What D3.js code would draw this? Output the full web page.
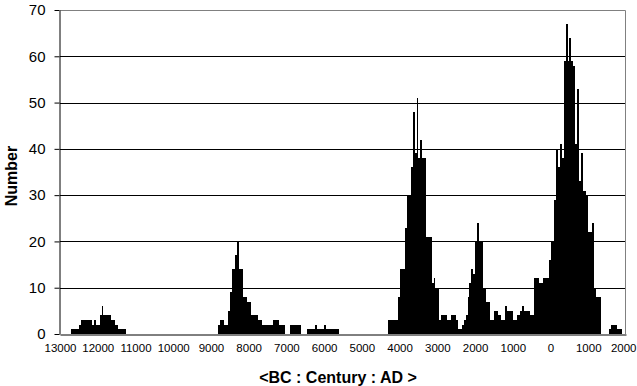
<!DOCTYPE html>
<html>
<head>
<meta charset="utf-8">
<script src="https://cdn.jsdelivr.net/npm/d3@7"></script>
<style>
  html, body { margin: 0; padding: 0; background: #fff; }
  svg { display: block; }
  text { font-family: Arial, "Liberation Sans", sans-serif; fill: #000; }
</style>
</head>
<body>
<svg id="chart" width="637" height="386"></svg>
<script>
// Bin definition: 50-year bins from 13000 BC (-13000) to 2000 AD
const binStartYear = -13000;
const binYears = 50;

// Counts per 50-year bin (300 bins), 20 bins per row
const counts = [
  0,0,0,0,0,0,1,1,1,1,2,3,3,3,3,3,3,2,3,2,          // -13000 .. -12050
  2,4,6,4,4,4,4,3,3,2,2,1,1,1,1,0,0,0,0,0,          // -12000 .. -11050
  0,0,0,0,0,0,0,0,0,0,0,0,0,0,0,0,0,0,0,0,          // -11000 .. -10050
  0,0,0,0,0,0,0,0,0,0,0,0,0,0,0,0,0,0,0,0,          // -10000 .. -9050
  0,0,0,0,2,3,3,2,2,5,9,14,14,17,20,14,14,8,8,7,    // -9000 .. -8050
  7,4,4,4,4,3,3,2,2,2,2,2,2,3,3,3,2,2,2,0,          // -8000 .. -7050
  0,0,2,2,2,2,2,2,0,0,0,1,1,1,1,2,1,1,1,1,          // -7000 .. -6050
  2,1,1,1,1,1,1,1,0,0,0,0,0,0,0,0,0,0,0,0,          // -6000 .. -5050
  0,0,0,0,0,0,0,0,0,0,0,0,0,0,3,3,3,3,3,8,          // -5000 .. -4050
  14,14,14,23,30,30,36,48,39,51,38,42,38,38,21,21,21,11,12,10, // -4000 .. -3050
  10,3,4,4,4,3,3,4,4,4,3,1,1,2,3,4,8,11,14,13,      // -3000 .. -2050
  20,24,20,20,10,10,7,7,3,3,5,5,4,4,3,3,6,5,5,5,    // -2000 .. -1050
  3,3,4,4,5,6,5,5,5,4,4,12,12,12,11,11,12,12,12,16, // -1000 .. -50
  20,20,29,40,36,41,38,59,67,59,64,59,58,41,53,33,39,31,31,30, // 0 .. 950
  22,22,24,10,8,8,8,0,0,0,0,1,2,2,2,1,1,1,0,0       // 1000 .. 1950
];

// Axis tick values and labels
const xTickYears = [-13000,-12000,-11000,-10000,-9000,-8000,-7000,-6000,-5000,-4000,-3000,-2000,-1000,0,1000,2000];
const yTickValues = [0,10,20,30,40,50,60,70];
const xTitle = "<BC : Century : AD >";
const yTitle = "Number";

const bins = counts.map((c, i) => ({ start: binStartYear + i * binYears, count: c }));

const W = 637;
const svg = d3.select("#chart");
const plot = { left: 60, right: 626, top: 10, bottom: 334 };

const x = d3.scaleLinear().domain([-13000, 2000]).range([plot.left, plot.right]);
const y = d3.scaleLinear().domain([0, 70]).range([plot.bottom, plot.top]);

// Gridlines
svg.append("g")
  .selectAll("line")
  .data(yTickValues.filter(v => v > 0 && v < 70))
  .join("line")
  .attr("x1", plot.left).attr("x2", plot.right)
  .attr("y1", d => Math.round(y(d)) + 0.5).attr("y2", d => Math.round(y(d)) + 0.5)
  .attr("stroke", "#000").attr("stroke-width", 1);

// Plot border (top and right, gray)
svg.append("path")
  .attr("d", `M${plot.left},${plot.top + 0.5}H${plot.right - 0.5}V${plot.bottom}`)
  .attr("fill", "none").attr("stroke", "#808080").attr("stroke-width", 1);

// Bars
svg.append("g")
  .selectAll("rect")
  .data(bins.filter(d => d.count > 0))
  .join("rect")
  .attr("x", d => Math.round(x(d.start)))
  .attr("width", d => Math.round(x(d.start + binYears)) - Math.round(x(d.start)))
  .attr("y", d => Math.round(y(d.count)))
  .attr("height", d => Math.round(y(0)) - Math.round(y(d.count)))
  .attr("fill", "#000")
  .attr("shape-rendering", "crispEdges");

// Y axis
const yAxis = svg.append("g")
  .attr("transform", `translate(${plot.left - 0.5},0)`)
  .call(d3.axisLeft(y).tickValues(yTickValues).tickSize(5).tickSizeOuter(0).tickPadding(9));
yAxis.select(".domain").attr("stroke", "#000");
yAxis.selectAll(".tick line").attr("stroke", "#000");
yAxis.selectAll(".tick text")
  .style("font-size", "15px")
  .style("font-family", "Arial, 'Liberation Sans', sans-serif")
  .attr("fill", "#000");

// X axis
const xAxis = svg.append("g")
  .attr("transform", `translate(0,${plot.bottom + 0.5})`)
  .call(d3.axisBottom(x).tickValues(xTickYears).tickSize(0).tickSizeOuter(0).tickPadding(9)
    .tickFormat(d => String(Math.abs(d))));
xAxis.select(".domain").attr("stroke", "#000");
xAxis.selectAll(".tick text")
  .style("font-size", "11.5px")
  .style("font-family", "Arial, 'Liberation Sans', sans-serif")
  .attr("fill", "#000");
// keep the last label inside the picture
xAxis.selectAll(".tick")
  .filter(d => d === xTickYears[xTickYears.length - 1])
  .select("text")
  .attr("text-anchor", "end")
  .attr("x", (W - 1) - x(xTickYears[xTickYears.length - 1]));

// Titles
svg.append("text")
  .attr("x", 338).attr("y", 383)
  .attr("text-anchor", "middle")
  .style("font-size", "16px").style("font-weight", "bold")
  .text(xTitle);

svg.append("text")
  .attr("transform", `translate(17,${(plot.top + plot.bottom) / 2 + 4}) rotate(-90)`)
  .attr("text-anchor", "middle")
  .style("font-size", "16px").style("font-weight", "bold")
  .text(yTitle);
</script>
</body>
</html>
